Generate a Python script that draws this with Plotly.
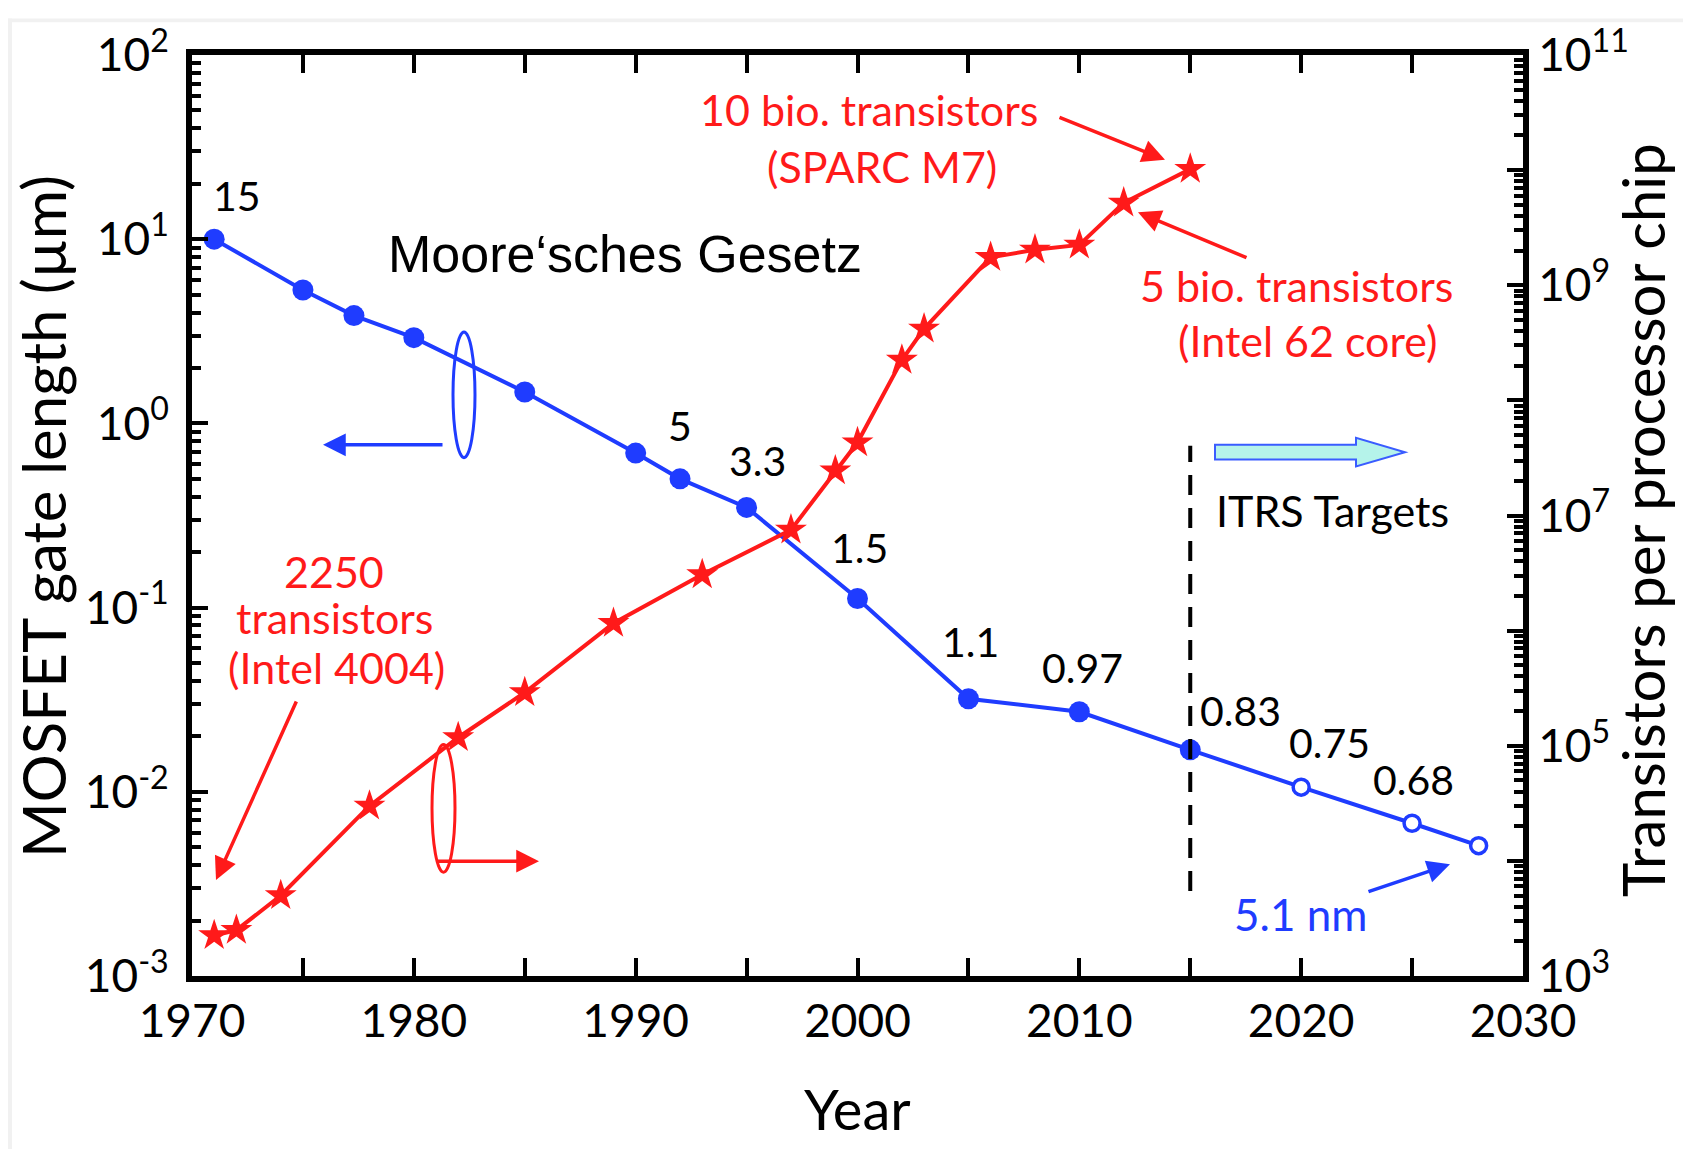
import plotly.graph_objects as go

# ---------------- data ----------------
gate_years = [1971, 1975, 1977.3, 1980, 1985, 1990, 1992, 1995, 2000, 2005, 2010, 2015]
gate_um = [10.0, 5.3, 3.85, 2.92, 1.48, 0.69, 0.50, 0.35, 0.112, 0.032, 0.0272, 0.0169]
itrs_years = [2015, 2020, 2025, 2028]
itrs_um = [0.0169, 0.0106, 0.00675, 0.0051]

tr_years = [1971, 1972, 1974, 1978, 1982, 1985, 1989, 1993, 1997, 1999, 2000,
            2002, 2003, 2006, 2008, 2010, 2012, 2015]
transistors = [2250, 2500, 5000, 30000, 118000, 290000, 1.16e6, 3.07e6, 7.5e6, 2.45e7, 4.3e7,
               2.24e8, 4.18e8, 1.75e9, 2.03e9, 2.24e9, 5.2e9, 1.02e10]

node_labels = ["15", "5", "3.3", "1.5", "1.1", "0.97", "0.83", "0.75", "0.68"]

left_exps = [-3, -2, -1, 0, 1, 2]
right_exps = [3, 4, 5, 6, 7, 8, 9, 10, 11]

# ---------------- layout geometry (page pixel coords) ----------------
PAGE_W, PAGE_H = 1691, 1157
OFF = 8                      # default body margin of the html page
W, H = PAGE_W - 2 * OFF, PAGE_H - 2 * OFF
L, R, T, B = 192 - OFF, 1523 - OFF, 45 - OFF, 976 - OFF
PW, PH = R - L, B - T

BLUE = "#1f3cff"
RED = "#ff1a1a"
FONT = "Lato"
DY = -7   # vertical correction between box centre and glyph centre


def px(xp):
    return (xp - OFF - L) / PW


def py(yp):
    return (B - (yp - OFF)) / PH


fig = go.Figure()

fig.add_trace(go.Scatter(
    x=gate_years, y=gate_um, mode="lines+markers",
    line=dict(color=BLUE, width=4),
    marker=dict(symbol="circle", size=21, color=BLUE),
    yaxis="y", showlegend=False))
fig.add_trace(go.Scatter(
    x=itrs_years, y=itrs_um, mode="lines",
    line=dict(color=BLUE, width=4), yaxis="y", showlegend=False))
fig.add_trace(go.Scatter(
    x=itrs_years[1:], y=itrs_um[1:], mode="markers",
    marker=dict(symbol="circle", size=16, color="white", line=dict(color=BLUE, width=3.5)),
    yaxis="y", showlegend=False))
fig.add_trace(go.Scatter(
    x=tr_years, y=transistors, mode="lines+markers",
    line=dict(color=RED, width=4),
    marker=dict(symbol="star", size=24, color=RED),
    yaxis="y2", showlegend=False))

# ---------------- annotations ----------------
ann = []


def text(xp, yp, s, color="black", size=42, family=FONT, angle=0):
    ann.append(dict(x=px(xp), y=py(yp), xref="paper", yref="paper", text=s,
                    showarrow=False, textangle=angle,
                    font=dict(family=family, size=size, color=color),
                    xanchor="center", yanchor="middle"))


def arrow(tail, head, color, width=3.5, size=1.3, headstyle=2):
    ann.append(dict(x=px(head[0]), y=py(head[1]), xref="paper", yref="paper",
                    ax=tail[0] - head[0], ay=tail[1] - head[1], axref="pixel", ayref="pixel",
                    text="", showarrow=True, arrowhead=headstyle, arrowsize=size,
                    arrowwidth=width, arrowcolor=color, standoff=0, startstandoff=0))


label_pos = [(237, 194), (680, 427), (757, 462), (860, 550), (970, 645),
             (1082, 671), (1240, 715), (1329, 747), (1413, 784)]
for (xp, yp), s in zip(label_pos, node_labels):
    text(xp, yp + DY, s, size=41)

text(625, 254 + DY - 1, "Moore‘sches Gesetz", size=52, family="Liberation Sans, Arial")

text(869, 112 + DY - 5, "10 bio. transistors", RED, 43)
text(882, 168 + DY - 3, "(SPARC M7)", RED, 43)
text(1296, 285 + DY, "5 bio. transistors", RED, 43)
text(1307, 343 + DY - 2, "(Intel 62 core)", RED, 43)
text(334, 574 + DY, "2250", RED, 43)
text(334, 621 + DY, "transistors", RED, 43)
text(336, 671 + DY, "(Intel 4004)", RED, 43)
text(1332, 512 + DY, "ITRS Targets", "black", 43)
text(1300, 917 + DY + 3, "5.1 nm", BLUE, 44)

arrow((444, 439), (323, 439), BLUE)
arrow((435, 860), (539, 860), RED)
arrow((297, 699), (216, 879), RED)
arrow((1058, 108), (1165, 151), RED)
arrow((1248, 250), (1138, 204), RED)
arrow((1367, 891), (1450, 863), BLUE)

# axis titles
text(43, 512, "MOSFET gate length (µm)", "black", 60, angle=-90)
text(1643, 515, "Transistors per processor chip", "black", 58, angle=-90)
text(857, 1110, "Year", "black", 56)

# ---------------- shapes ----------------
shapes = []
# light gray page border strips
shapes.append(dict(type="rect", xref="paper", yref="paper", layer="below",
                   x0=px(OFF), x1=px(12), y0=py(PAGE_H), y1=py(OFF),
                   fillcolor="#f1f1f1", line=dict(width=0)))
shapes.append(dict(type="rect", xref="paper", yref="paper", layer="below",
                   x0=px(OFF), x1=px(PAGE_W), y0=py(12), y1=py(OFF),
                   fillcolor="#f1f1f1", line=dict(width=0)))
# ellipses
shapes.append(dict(type="circle", xref="paper", yref="paper",
                   x0=px(453), x1=px(475), y0=py(452), y1=py(325),
                   line=dict(color=BLUE, width=3)))
shapes.append(dict(type="circle", xref="paper", yref="paper",
                   x0=px(432), x1=px(455), y0=py(871), y1=py(742),
                   line=dict(color=RED, width=3)))
# dashed ITRS line
shapes.append(dict(type="line", xref="x", yref="paper",
                   x0=2015, x1=2015, y0=py(890), y1=py(440),
                   line=dict(color="black", width=4, dash="20px,13px")))
# block arrow
bx0, bx1, bxt = 1215, 1356, 1405
by0, by1, hy0, hy1, ty = 439, 454, 432, 461, 446.5
path = (f"M {px(bx0)},{py(by0)} L {px(bx1)},{py(by0)} L {px(bx1)},{py(hy0)} "
        f"L {px(bxt)},{py(ty)} L {px(bx1)},{py(hy1)} L {px(bx1)},{py(by1)} "
        f"L {px(bx0)},{py(by1)} Z")
shapes.append(dict(type="path", xref="paper", yref="paper", path=path,
                   fillcolor="#b5f3ea", line=dict(color="#3a5cff", width=2)))

# ---------------- axes ----------------
axis_font = dict(family=FONT, size=46, color="black")

left_minor = [m * 10.0 ** e for e in left_exps[:-1] for m in range(2, 10)]
right_minor = [m * 10.0 ** e for e in right_exps[:-1] for m in range(2, 10)]

fig.update_layout(
    width=W, height=H,
    margin=dict(l=L, r=W - R, t=T, b=H - B),
    paper_bgcolor="white", plot_bgcolor="white",
    showlegend=False,
    annotations=ann, shapes=shapes,
    xaxis=dict(
        range=[1970, 2030], tickmode="linear", tick0=1970, dtick=10,
        ticks="inside", ticklen=18, tickwidth=4, tickcolor="black",
        minor=dict(tickmode="linear", tick0=1975, dtick=10, ticks="inside",
                   ticklen=10, tickwidth=4, tickcolor="black"),
        showline=True, linewidth=6, linecolor="black", mirror="allticks",
        showgrid=False, zeroline=False, tickfont=axis_font,
        ticklabelstandoff=0,
    ),
    yaxis=dict(
        type="log", range=[-3, 2],
        tickmode="array", tickvals=[10.0 ** e for e in left_exps],
        ticktext=[f"10<sup>{e}</sup>" for e in left_exps],
        ticks="inside", ticklen=16, tickwidth=4, tickcolor="black",
        minor=dict(tickmode="array", tickvals=left_minor, ticks="inside",
                   ticklen=9, tickwidth=4, tickcolor="black"),
        showline=True, linewidth=6, linecolor="black", mirror=False,
        showgrid=False, zeroline=False, tickfont=axis_font,
        ticklabelstandoff=8,
    ),
    yaxis2=dict(
        type="log", range=[3, 11], overlaying="y", side="right",
        tickmode="array", tickvals=[10.0 ** e for e in right_exps],
        ticktext=[f"10<sup>{e}</sup>" if e % 2 == 1 else "" for e in right_exps],
        ticks="inside", ticklen=16, tickwidth=4, tickcolor="black",
        minor=dict(tickmode="array", tickvals=right_minor, ticks="inside",
                   ticklen=9, tickwidth=4, tickcolor="black"),
        showline=True, linewidth=6, linecolor="black",
        showgrid=False, zeroline=False, tickfont=axis_font,
    ),
)

fig.write_html("out.html")
